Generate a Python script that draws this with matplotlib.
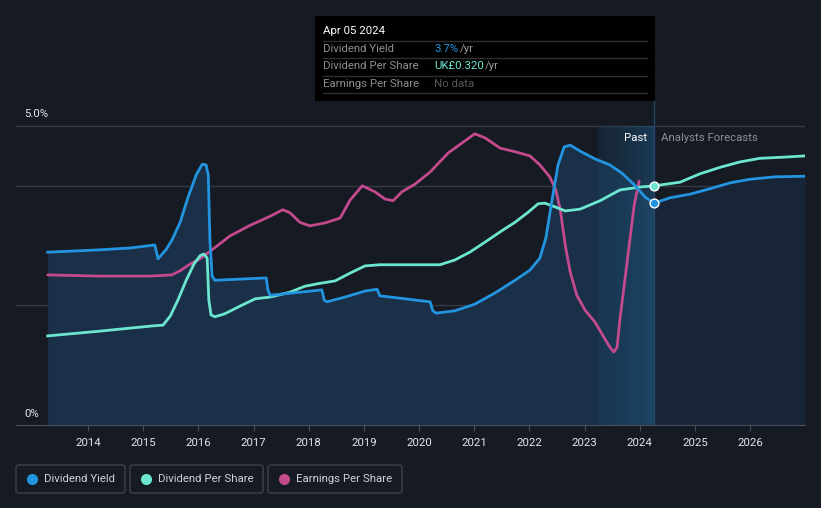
import matplotlib
matplotlib.use("Agg")
import matplotlib.pyplot as plt
from matplotlib.patches import Rectangle, FancyBboxPatch
import numpy as np

plt.rcParams['font.family'] = ['Roboto', 'DejaVu Sans']

# ---- data (years as decimal, values in %) ----
yield_x = [2013.27, 2014.22, 2014.76, 2015.21, 2015.27, 2015.42, 2015.52, 2015.67, 2015.81,
           2015.96, 2016.07, 2016.14, 2016.18, 2016.21, 2016.25, 2016.30, 2016.76, 2017.23,
           2017.26, 2017.30, 2017.84, 2018.24, 2018.28, 2018.33, 2018.66, 2019.02, 2019.24,
           2019.29, 2019.66, 2020.20, 2020.25, 2020.31, 2020.65, 2021.01, 2021.38, 2021.74,
           2022.01, 2022.19, 2022.30, 2022.41, 2022.52, 2022.63, 2022.74, 2022.92, 2023.19,
           2023.46, 2023.68, 2023.91, 2024.10, 2024.26]
yield_y = [2.89, 2.93, 2.96, 3.01, 2.78, 2.94, 3.09, 3.39, 3.80,
           4.18, 4.36, 4.35, 4.18, 3.09, 2.49, 2.42, 2.44, 2.46,
           2.26, 2.17, 2.22, 2.26, 2.09, 2.06, 2.14, 2.24, 2.27,
           2.16, 2.12, 2.06, 1.91, 1.87, 1.91, 2.02, 2.21, 2.42,
           2.59, 2.79, 3.13, 3.76, 4.35, 4.65, 4.68, 4.58, 4.45,
           4.35, 4.21, 4.01, 3.81, 3.71]
yield_fc_x = [2024.26, 2024.55, 2024.91, 2025.27, 2025.64, 2026.00, 2026.45, 2027.00]
yield_fc_y = [3.71, 3.80, 3.86, 3.95, 4.05, 4.11, 4.15, 4.16]

dps_x = [2013.27, 2014.22, 2014.76, 2015.21, 2015.36, 2015.49, 2015.63, 2015.78, 2015.92,
         2016.03, 2016.10, 2016.16, 2016.19, 2016.23, 2016.30, 2016.48, 2016.76, 2017.03,
         2017.30, 2017.66, 2017.93, 2018.21, 2018.48, 2018.75, 2019.02, 2019.29, 2020.02,
         2020.38, 2020.65, 2020.92, 2021.20, 2021.47, 2021.74, 2021.98, 2022.16, 2022.28,
         2022.46, 2022.65, 2022.92, 2023.28, 2023.64, 2024.01, 2024.26]
dps_y = [1.49, 1.57, 1.62, 1.66, 1.67, 1.82, 2.09, 2.42, 2.69,
         2.83, 2.86, 2.79, 2.09, 1.84, 1.81, 1.86, 1.99, 2.11,
         2.14, 2.22, 2.32, 2.37, 2.41, 2.54, 2.66, 2.68, 2.68,
         2.68, 2.76, 2.89, 3.06, 3.23, 3.39, 3.56, 3.70, 3.71,
         3.65, 3.58, 3.61, 3.75, 3.93, 3.98, 4.00]
dps_fc_x = [2024.26, 2024.73, 2025.09, 2025.46, 2025.82, 2026.18, 2026.63, 2027.00]
dps_fc_y = [4.00, 4.06, 4.20, 4.31, 4.40, 4.46, 4.48, 4.50]

eps_x = [2013.27, 2014.22, 2015.12, 2015.52, 2015.67, 2015.85, 2016.03, 2016.25, 2016.57,
         2016.94, 2017.30, 2017.53, 2017.66, 2017.84, 2018.02, 2018.30, 2018.57, 2018.75,
         2018.97, 2019.20, 2019.38, 2019.53, 2019.69, 2019.93, 2020.20, 2020.53, 2020.83,
         2021.01, 2021.20, 2021.47, 2021.74, 2022.01, 2022.19, 2022.37, 2022.48, 2022.56,
         2022.65, 2022.74, 2022.86, 2023.01, 2023.19, 2023.33, 2023.46, 2023.53, 2023.59,
         2023.64, 2023.72, 2023.81, 2023.90, 2023.99]
eps_y = [2.51, 2.49, 2.49, 2.51, 2.58, 2.69, 2.78, 2.93, 3.16,
         3.34, 3.49, 3.60, 3.55, 3.39, 3.33, 3.38, 3.46, 3.76,
         4.00, 3.90, 3.78, 3.75, 3.90, 4.03, 4.23, 4.55, 4.75,
         4.87, 4.80, 4.63, 4.57, 4.50, 4.35, 4.15, 3.93, 3.60,
         3.01, 2.56, 2.17, 1.92, 1.72, 1.50, 1.30, 1.22, 1.30,
         1.76, 2.34, 3.01, 3.68, 4.08]

years = list(range(2014, 2027))
past_start, today = 2023.25, 2024.26

BG = '#151a23'
BLUE = '#2394df'
TEAL = '#6ce6cf'
PINK = '#c44a8e'
FS = 8.2

W, H = 821, 508
fig = plt.figure(figsize=(W / 100, H / 100), dpi=100, facecolor=BG)

def fx(px):
    return px / W

def fy(py):
    return 1 - py / H

ax = fig.add_axes([fx(16), fy(425), fx(805) - fx(16), fy(100) - fy(425)])
ax.set_facecolor(BG)
ax.set_xlim(2012.695, 2026.996)
ax.set_ylim(0, 5.435)

for g in [2, 4, 5]:
    ax.axhline(g, color='#343944', lw=1, zorder=1)

# area under yield
ax.fill_between(yield_x, yield_y, 0, color='#1a3048', zorder=2, lw=0)
ax.fill_between(yield_fc_x, yield_fc_y, 0, color='#182538', zorder=2, lw=0)

# past band gradient
grad = np.linspace(0, 1, 100).reshape(1, -1)
band_cmap = matplotlib.colors.LinearSegmentedColormap.from_list(
    'pb', [(0.10, 0.27, 0.40, 0.25), (0.12, 0.34, 0.50, 0.55)])
ax.imshow(grad, extent=[past_start, today, 0, 5], aspect='auto', cmap=band_cmap,
          zorder=3, interpolation='bilinear')
ax.axvline(today, color='#24476a', lw=1, zorder=3)

ax.plot(eps_x, eps_y, color=PINK, lw=2, zorder=5, solid_capstyle='round', solid_joinstyle='round')
ax.plot(dps_x + dps_fc_x[1:], dps_y + dps_fc_y[1:], color=TEAL, lw=2, zorder=6, solid_joinstyle='round')
ax.plot(yield_x + yield_fc_x[1:], yield_y + yield_fc_y[1:], color=BLUE, lw=2, zorder=6, solid_joinstyle='round')
ax.scatter([today], [dps_y[-1]], s=40, color=TEAL, edgecolor='white', lw=1, zorder=8)
ax.scatter([today], [yield_y[-1]], s=40, color=BLUE, edgecolor='white', lw=1, zorder=8)

for s in ['top', 'right', 'left']:
    ax.spines[s].set_visible(False)
ax.spines['bottom'].set_color('#4a4f5a')
ax.set_yticks([])
ax.set_xticks(years)
ax.set_xticklabels([str(y) for y in years])
ax.tick_params(axis='x', colors='#4a4f5a', labelcolor='#e6e6e6', labelsize=FS, length=4, pad=5)

ax.text(past_start + 0.88, 4.8, 'Past', color='white', fontsize=FS, ha='right', va='center', zorder=9)
ax.text(today + 0.13, 4.8, 'Analysts Forecasts', color='#8a8f99', fontsize=FS, ha='left', va='center', zorder=9)

# y labels
fig.text(fx(24), fy(114), '5.0%', color='#e6e6e6', fontsize=FS, va='center')
fig.text(fx(24), fy(414), '0%', color='#e6e6e6', fontsize=FS, va='center')

# tooltip
fig.patches.append(Rectangle((fx(315), fy(101)), fx(655) - fx(315), fy(16) - fy(101),
                             transform=fig.transFigure, facecolor='black', edgecolor='none', zorder=10))
fig.text(fx(323), fy(31), 'Apr 05 2024', color='white', fontsize=FS, va='center', zorder=11)
for py in [41, 58, 76, 93]:
    fig.add_artist(plt.Line2D([fx(323), fx(647)], [fy(py), fy(py)], color='#2e2e2e', lw=1, zorder=11))
rows = [('Dividend Yield', fy(49)), ('Dividend Per Share', fy(66)), ('Earnings Per Share', fy(84))]
for name, yy in rows:
    fig.text(fx(323), yy, name, color='#8f8f8f', fontsize=FS, va='center', zorder=11)
fig.text(fx(434), fy(49), '3.7%', color=BLUE, fontsize=FS, va='center', zorder=11)
fig.text(fx(460), fy(49), '/yr', color='#9a9a9a', fontsize=FS, va='center', zorder=11)
fig.text(fx(434), fy(66), 'UK£0.320', color=TEAL, fontsize=FS, va='center', zorder=11)
fig.text(fx(485), fy(66), '/yr', color='#9a9a9a', fontsize=FS, va='center', zorder=11)
fig.text(fx(434), fy(84), 'No data', color='#5a5a5a', fontsize=FS, va='center', zorder=11)

# legend
legend = [('Dividend Yield', BLUE, 16, 125), ('Dividend Per Share', TEAL, 130, 263),
          ('Earnings Per Share', PINK, 268, 402)]
for name, col, x0, x1 in legend:
    fig.patches.append(FancyBboxPatch((fx(x0), fy(493)), fx(x1) - fx(x0), fy(465) - fy(493),
                                      boxstyle='round,pad=0,rounding_size=0.004',
                                      transform=fig.transFigure, facecolor='none',
                                      edgecolor='#3d434e', lw=1))
    fig.add_artist(plt.Line2D([fx(x0 + 16)], [fy(479)], marker='o', markersize=7,
                              color=col, lw=0))
    fig.text(fx(x0 + 28), fy(479), name, color='#cfd2d6', fontsize=FS, va='center')

fig.savefig('out.png', dpi=100, facecolor=BG)
